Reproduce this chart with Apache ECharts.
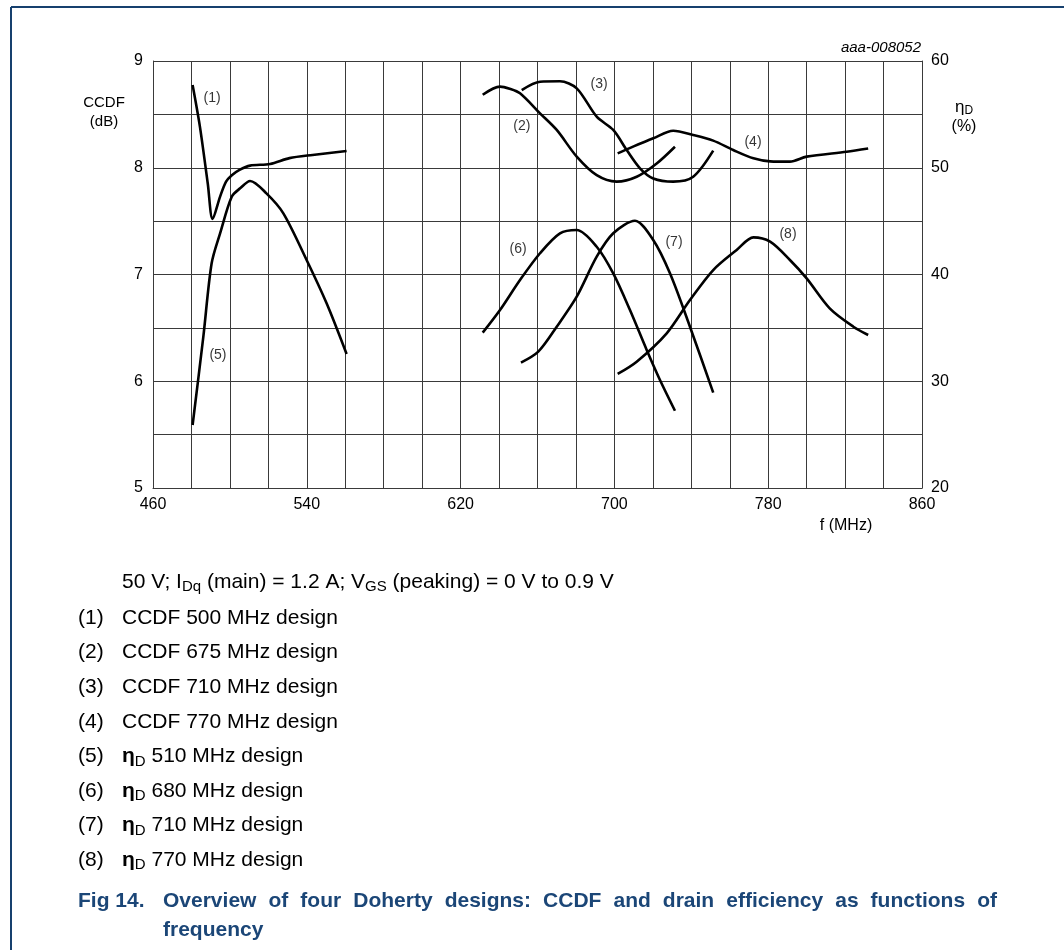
<!DOCTYPE html>
<html><head><meta charset="utf-8">
<script src="https://cdn.jsdelivr.net/npm/echarts@6/dist/echarts.min.js"></script>
<style>html,body{margin:0;padding:0;background:#fff}#c{width:1064px;height:950px}</style>
</head><body><div id="c"></div>
<script>
// ---- data ----
const ccdf500 = [[480.6,8.775],[484.4,8.385],[488.5,7.85],[491,7.52],[494.9,7.73],[498,7.87],[501,7.93],[505,7.98],[510.5,8.02],[520.9,8.035],[531,8.09],[543,8.12],[560.7,8.157]];
const ccdf675 = [[631.5,8.684],[640.5,8.76],[645.5,8.74],[650.9,8.697],[661.3,8.51],[670,8.354],[680.4,8.104],[690.8,7.93],[701.2,7.87],[711.6,7.916],[722,8.04],[731.5,8.197]];
const ccdf710 = [[651.8,8.728],[661.3,8.806],[671.7,8.81],[680.4,8.744],[690.8,8.478],[699.4,8.354],[706.4,8.166],[713.3,7.995],[720.2,7.9],[730.6,7.87],[741,7.916],[751.4,8.16]];
const ccdf770 = [[701.7,8.135],[710,8.2],[720.2,8.276],[730.6,8.347],[741,8.307],[751.4,8.254],[761.8,8.166],[772.3,8.088],[781,8.06],[791.3,8.057],[800,8.104],[820.8,8.15],[832,8.18]];
const eff510 = [[480.6,25.9],[486.2,34.2],[490.5,41.05],[494.9,43.86],[501,47.3],[505.3,48.07],[510.5,48.76],[519,47.6],[527.8,45.73],[539.9,41.36],[550.3,37.3],[560.7,32.55]];
const eff680 = [[631.5,34.55],[640.5,36.67],[650.9,39.48],[661.3,41.99],[671.7,43.86],[680.4,44.17],[690.8,42.6],[699.4,40.1],[708.1,36.67],[716.8,32.93],[723.7,30.12],[731.5,27.24]];
const eff710 = [[651.4,31.74],[660.4,32.77],[670,35.11],[680.4,37.92],[690.8,41.67],[699.4,43.86],[710.7,45.04],[720.2,43.23],[728.9,40.11],[739.3,35.11],[751.4,28.93]];
const eff770 = [[701.7,30.68],[711.6,31.83],[727.2,34.49],[739.3,37.61],[751.4,40.42],[763.6,42.3],[772.3,43.48],[781,43.07],[791.3,41.36],[800,39.64],[812,36.83],[824.3,35.11],[832,34.33]];
// curve tags placed in (MHz, dB) coordinates
const curveTags = [['(1)',490.7,8.65],['(2)',651.9,8.39],['(3)',692,8.785],['(4)',772.1,8.24],['(5)',493.8,6.246],['(6)',649.9,7.24],['(7)',731,7.30],['(8)',790.3,7.38]];
const xRange = [460, 860, 20], xLabelStep = 80;
const yLeft = [5, 9, 0.5], yRight = [20, 60, 5];
const legendNums = ['(1)','(2)','(3)','(4)','(5)','(6)','(7)','(8)'];
const legendTexts = ['CCDF 500 MHz design','CCDF 675 MHz design','CCDF 710 MHz design','CCDF 770 MHz design','510 MHz design','680 MHz design','710 MHz design','770 MHz design'];
const legendEta = [false,false,false,false,true,true,true,true];
const captionLine1 = 'Overview of four Doherty designs: CCDF and drain efficiency as functions of';
const captionLine2 = 'frequency';

const FONT = '"Liberation Sans", Arial, sans-serif';
const gridColor = '#3a3a3a';
const chart = echarts.init(document.getElementById('c'), null, {renderer:'canvas'});

function line(name, data, yi){
  return {name, type:'line', data, yAxisIndex:yi, smooth:0.3, symbol:'none',
    lineStyle:{color:'#000', width:2.6}, silent:true, animation:false, z:3};
}
const capFont = 'bold 21px ' + FONT, capColor = '#1b4677';
const graphics = [
  {type:'line', shape:{x1:11,y1:7,x2:1064,y2:7}, style:{stroke:'#16406e', lineWidth:2}},
  {type:'line', shape:{x1:11,y1:7,x2:11,y2:950}, style:{stroke:'#16406e', lineWidth:2}},
  {type:'text', x:104, y:112, style:{text:'CCDF\n(dB)', font:'15px '+FONT, fill:'#000', align:'center', verticalAlign:'middle', lineHeight:19}},
  {type:'text', x:964, y:117, style:{text:'{e|η}{s|D}\n(%)', font:'16px '+FONT, fill:'#000', align:'center', verticalAlign:'middle', lineHeight:20,
     rich:{e:{fontSize:17, fontFamily:FONT, lineHeight:20}, s:{fontSize:12, fontFamily:FONT, padding:[8,0,0,0], lineHeight:20}}}},
  {type:'text', x:921, y:55, style:{text:'aaa-008052', font:'italic 15px '+FONT, fill:'#000', align:'right', verticalAlign:'bottom'}},
  {type:'text', x:846, y:526, style:{text:'f (MHz)', font:'16px '+FONT, fill:'#000', align:'center', verticalAlign:'middle'}},
  {type:'text', x:122, y:582, style:{text:'50 V; I{s|Dq} (main) = 1.2 A; V{s|GS} (peaking) = 0 V to 0.9 V', font:'21px '+FONT, fill:'#000', verticalAlign:'middle',
     rich:{s:{fontSize:15, fontFamily:FONT, padding:[10,0,0,0]}}}},
  {type:'text', x:78, y:901, style:{text:'Fig 14.', font:capFont, fill:capColor, verticalAlign:'middle'}},
  {type:'text', x:163, y:930, style:{text:captionLine2, font:capFont, fill:capColor, verticalAlign:'middle'}}
];
// justified first caption line (as in the source document)
(function(){
  const ctx = document.createElement('canvas').getContext('2d');
  ctx.font = capFont;
  const words = captionLine1.split(' ');
  const widths = words.map(w => ctx.measureText(w).width);
  const x0 = 163, x1 = 997;
  const gap = (x1 - x0 - widths.reduce((a,b)=>a+b,0)) / (words.length - 1);
  let x = x0;
  words.forEach((w,i) => {
    graphics.push({type:'text', x, y:901, style:{text:w, font:capFont, fill:capColor, verticalAlign:'middle'}});
    x += widths[i] + gap;
  });
})();
legendNums.forEach((n,i)=>{
  const y = 618 + i*34.6;
  graphics.push({type:'text', x:78, y, style:{text:n, font:'21px '+FONT, fill:'#000', verticalAlign:'middle'}});
  graphics.push({type:'text', x:122, y, style:{text: legendEta[i] ? '{e|η}{s|D} '+legendTexts[i] : legendTexts[i], font:'21px '+FONT, fill:'#000', verticalAlign:'middle',
     rich:{e:{fontSize:21, fontWeight:'bold', fontFamily:FONT}, s:{fontSize:15, fontFamily:FONT, padding:[10,0,0,0]}}}});
});

const option = {
  animation:false,
  backgroundColor:'#fff',
  grid:{left:153, right:142, top:61, bottom:462, containLabel:false},
  xAxis:{type:'value', min:xRange[0], max:xRange[1], interval:xRange[2],
    axisLine:{show:true, onZero:false, lineStyle:{color:gridColor, width:1}}, axisTick:{show:false},
    splitLine:{show:true, lineStyle:{color:gridColor, width:1}},
    axisLabel:{fontSize:16, fontFamily:FONT, color:'#000', margin:9,
      formatter:v => ((v - xRange[0]) % xLabelStep === 0 ? String(v) : '')}},
  yAxis:[
    {type:'value', min:yLeft[0], max:yLeft[1], interval:yLeft[2], position:'left',
      axisLine:{show:true, lineStyle:{color:gridColor, width:1}}, axisTick:{show:false},
      splitLine:{show:true, lineStyle:{color:gridColor, width:1}},
      axisLabel:{fontSize:16, fontFamily:FONT, color:'#000', margin:10, formatter:v => (Number.isInteger(v) ? String(v) : '')}},
    {type:'value', min:yRight[0], max:yRight[1], interval:yRight[2], position:'right',
      axisLine:{show:true, lineStyle:{color:gridColor, width:1}}, axisTick:{show:false}, splitLine:{show:false},
      axisLabel:{fontSize:16, fontFamily:FONT, color:'#000', margin:9, formatter:v => (v % 10 === 0 ? String(v) : '')}}
  ],
  series:[
    line('(1)', ccdf500, 0), line('(2)', ccdf675, 0), line('(3)', ccdf710, 0), line('(4)', ccdf770, 0),
    line('(5)', eff510, 1), line('(6)', eff680, 1), line('(7)', eff710, 1), line('(8)', eff770, 1),
    {type:'scatter', yAxisIndex:0, symbolSize:0, silent:true, z:4,
      data: curveTags.map(t => ({value:[t[1], t[2]], name:t[0]})),
      label:{show:true, position:'inside', formatter:p => p.name, fontSize:14, fontFamily:FONT, color:'#000'}}
  ],
  graphic: graphics
};
chart.setOption(option);
</script></body></html>
